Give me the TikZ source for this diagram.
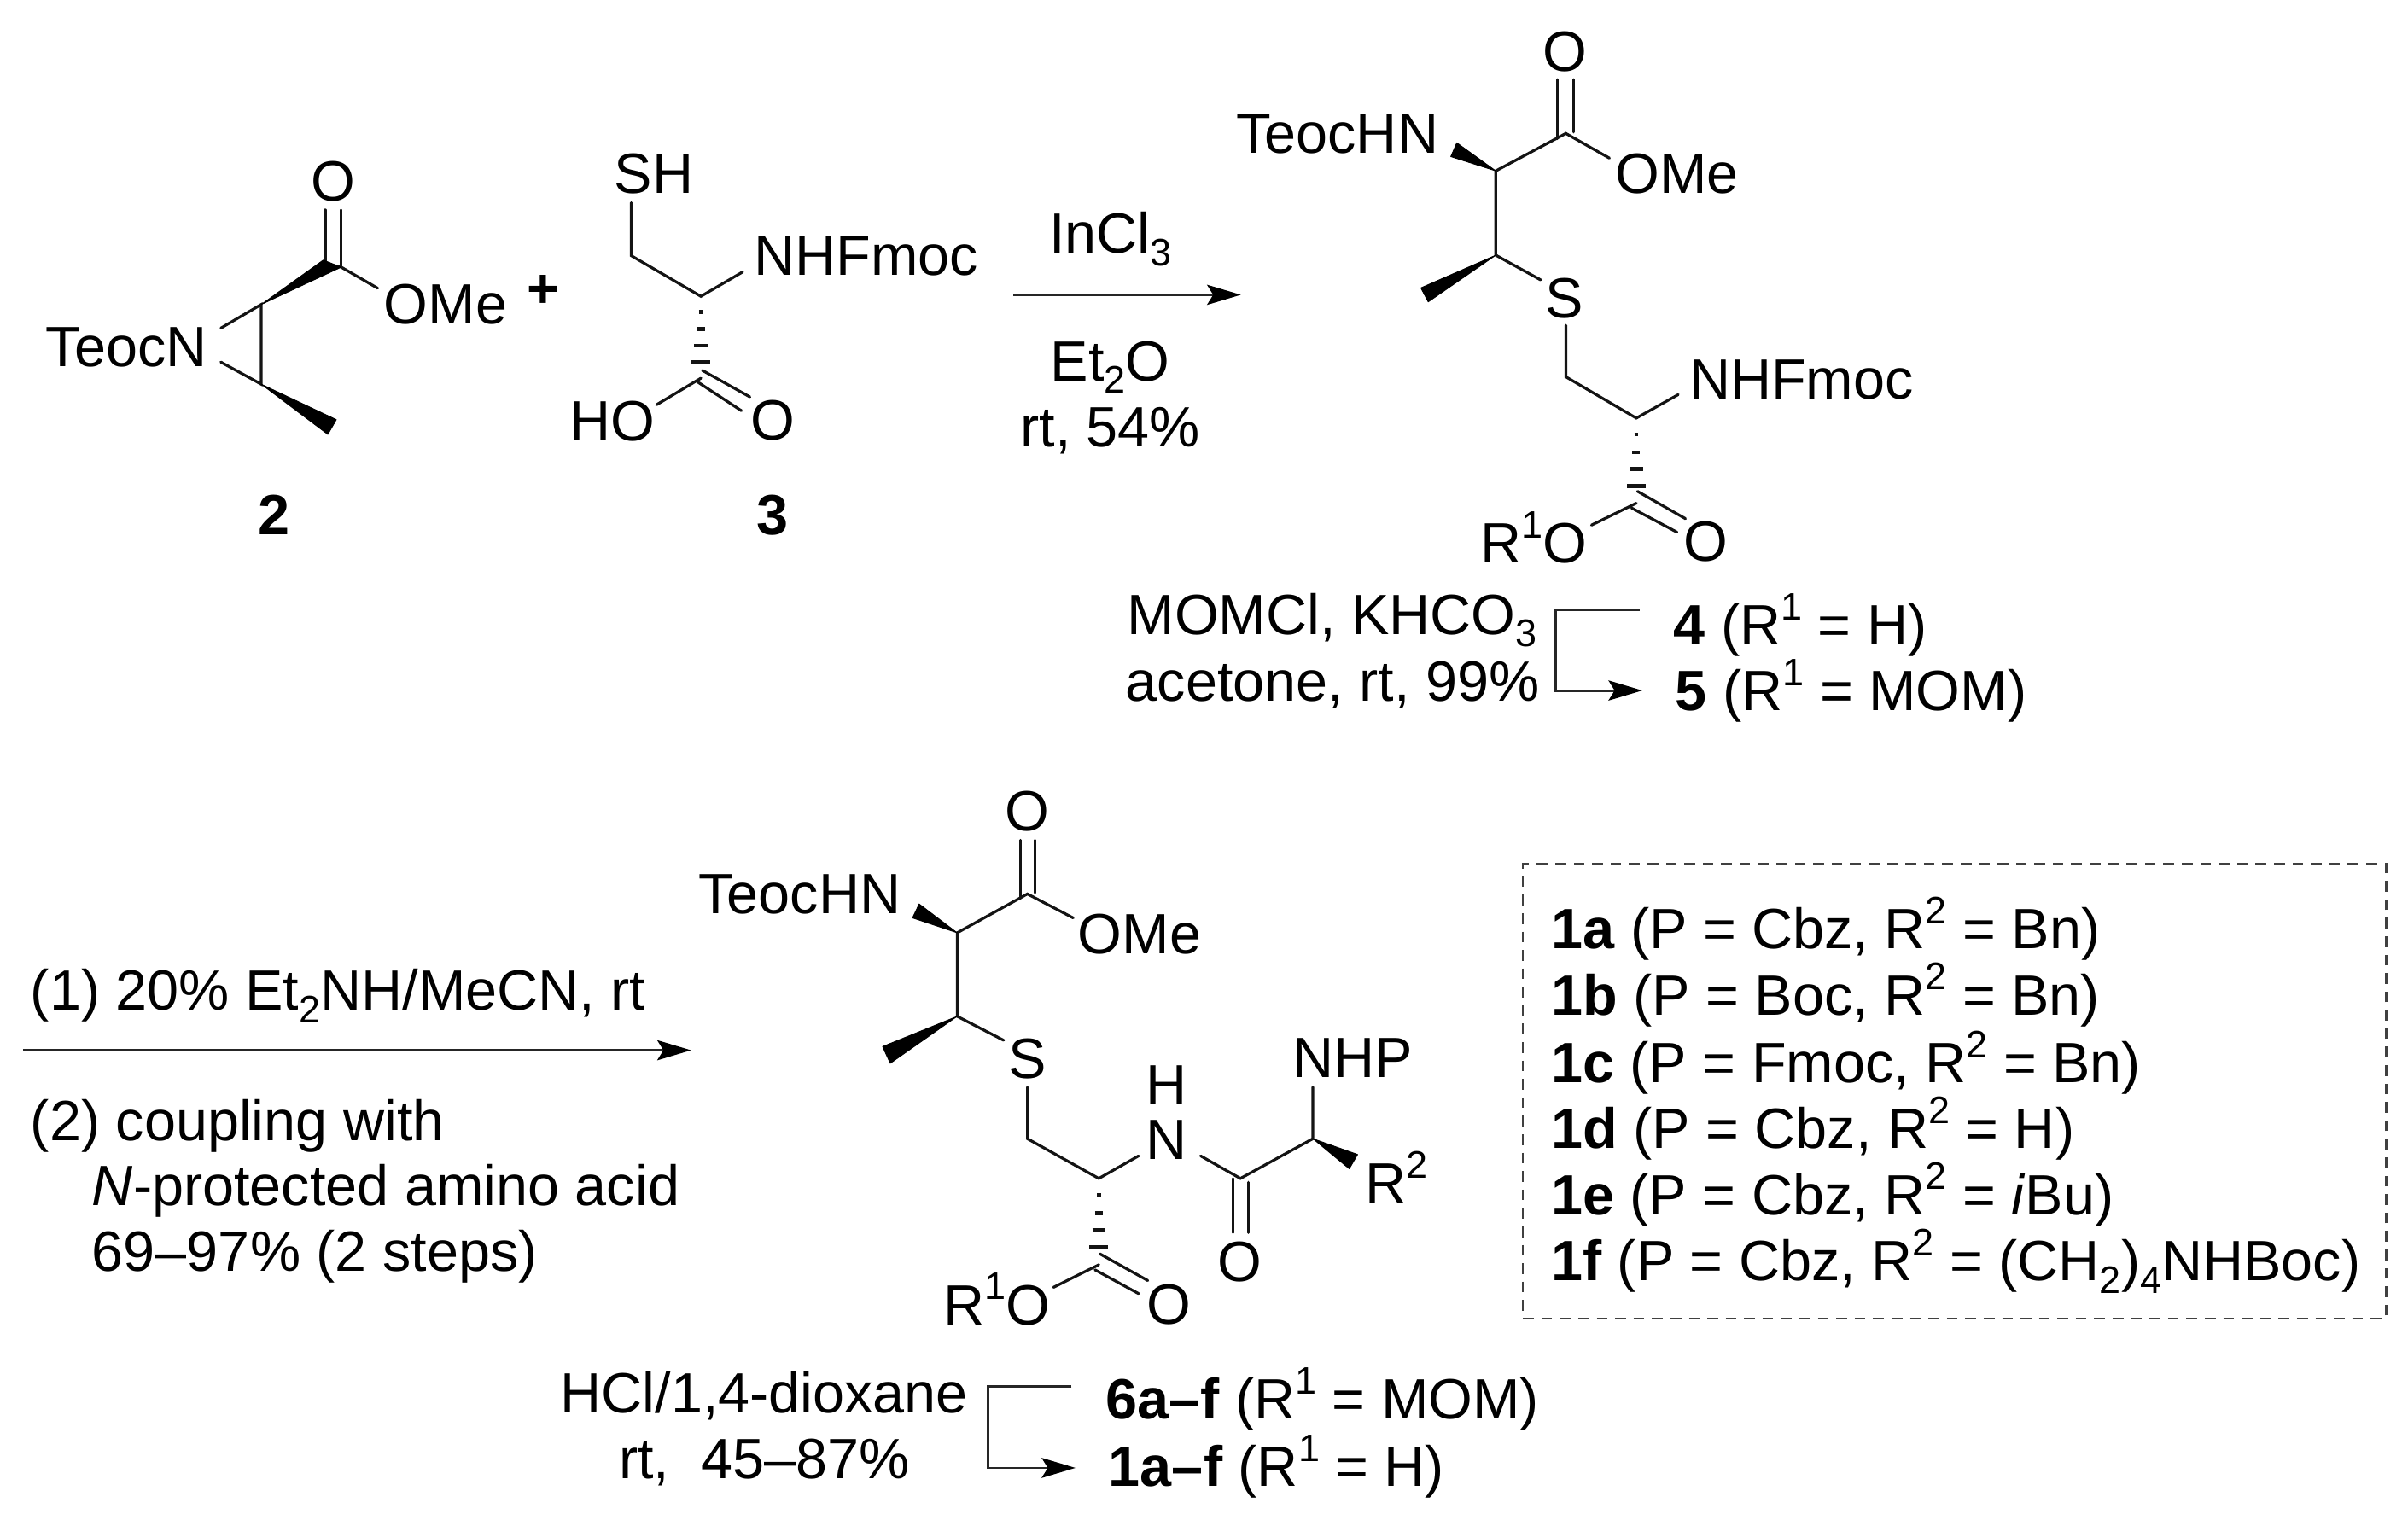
\documentclass[tikz,border=0pt]{standalone}
\usepackage{fontspec}
\setmainfont{Liberation Sans}
\usetikzlibrary{calc,arrows.meta}
\newcommand\lo[1]{\raisebox{-0.22em}{\fontsize{25}{25}\selectfont #1}}
\newcommand\hi[1]{\raisebox{0.44em}{\fontsize{25}{25}\selectfont #1}}
\newcommand\hashbond[2]{\foreach \f/\w in {0.19/2.5,0.40/5,0.60/8.5,0.80/12}{\draw[hashline] ($(#1)!\f!(#2)$) +(-\w*0.5,0) -- +(\w*0.5,0);}}
\tikzset{
 lbl/.style={inner sep=0pt,outer sep=0pt,anchor=base west,font=\fontsize{37}{37}\selectfont,text=black},
 bond/.style={line width=1.8pt,draw=black!92,line cap=round,line join=miter},
 wedgeb/.style={fill=black,draw=black,line width=0.5pt,line join=round},
 hashline/.style={line width=2.5pt,draw=black!92},
 rxn/.style={line width=1.6pt,draw=black!85,-{Stealth[length=22pt,width=13pt,inset=4pt,color=black]}},
}
\begin{document}
\begin{tikzpicture}[x=1pt,y=-1pt]
\useasboundingbox (0,0) rectangle (1568,989.4);
% ---------- compound 2
\node[lbl] (tn2) at (30,238.5) {TeocN};
\node[lbl] (ome2) at (250,211) {OMe};
\node[lbl,anchor=center] (o2) at (217,118) {O};
\node[lbl,anchor=base] (lab2) at (178.6,348) {\textbf{2}};
\node[lbl,anchor=center,font=\bfseries\fontsize{36}{36}\selectfont] (plus) at (354,190) {+};
\coordinate (a1) at (170.1,198.3); \coordinate (a2) at (170.1,250.2);
\coordinate (a3) at (143.8,213.7); \coordinate (a4) at (143.8,235.8);
\coordinate (a5) at (221,173.3); \coordinate (a6) at (245.9,187.7);
\coordinate (a7) at (211.8,136.7); \coordinate (a8) at (211.8,170);
\coordinate (a9) at (222.2,136.7); \coordinate (a10) at (222.2,174);
\coordinate (a11) at (210.5,169.4); \coordinate (a12) at (219,273.3); \coordinate (a13) at (213.5,282.9);
\draw[bond] (a3) -- (a1) -- (a2) -- (a4);
\draw[bond] (a5) -- (a6);
\draw[bond] (a7) -- (a8); \draw[bond] (a9) -- (a10);
\filldraw[wedgeb] (a1) -- (a11) -- (a10) -- cycle;
\filldraw[wedgeb] (a2) -- (a12) -- (a13) -- cycle;
% ---------- compound 3
\node[lbl] (sh3) at (400,126) {SH};
\node[lbl] (nh3) at (491,179.5) {NHFmoc};
\node[lbl] (ho3) at (371,287) {HO};
\node[lbl,anchor=center] (o3) at (503,273.8) {O};
\node[lbl,anchor=base] (lab3) at (502.8,348) {\textbf{3}};
\coordinate (b1) at (411,132); \coordinate (b2) at (411,166.5); \coordinate (b3) at (456.4,193);
\coordinate (b4) at (483.6,177.1); \coordinate (b5) at (456.4,246.3); \coordinate (b6) at (427.5,263.6);
\coordinate (b7) at (457.3,241.2); \coordinate (b8) at (488.3,258.5);
\coordinate (b9) at (454.3,248.8); \coordinate (b10) at (482.8,267.5);
\draw[bond] (b1) -- (b2) -- (b3) -- (b4);
\draw[bond] (b5) -- (b6);
\draw[bond] (b7) -- (b8); \draw[bond] (b9) -- (b10);
\hashbond{b3}{b5}
% ---------- arrow 1
\node[lbl,anchor=base] (incl) at (723,165) {InCl\lo{3}};
\node[lbl,anchor=base] (et2o) at (723,248) {Et\lo{2}O};
\node[lbl,anchor=base] (rt54) at (723,291) {rt, 54\%};
\coordinate (r1s) at (660,192); \coordinate (r1e) at (808,192);
\draw[rxn] (r1s) -- (r1e);
% ---------- compound 4
\node[lbl,anchor=center] (o4) at (1018.8,33.5) {O};
\node[lbl] (ome4) at (1052,126) {OMe};
\node[lbl] (teoc4) at (805,100) {TeocHN};
\node[lbl,anchor=center] (s4) at (1018.8,194.5) {S};
\node[lbl] (nh4) at (1100,260) {NHFmoc};
\node[lbl] (ro4) at (964,366.5) {R\hi{1}O};
\node[lbl,anchor=center] (o4b) at (1111,352.7) {O};
\coordinate (c1) at (1014.1,51.8); \coordinate (c2) at (1014.1,90.3);
\coordinate (c3) at (1024.6,51.8); \coordinate (c4) at (1024.6,86);
\coordinate (c5) at (1019.6,86.9); \coordinate (c6) at (974,111.3);
\coordinate (c7) at (1048,103); \coordinate (c8) at (948.6,93); \coordinate (c9) at (944.7,102);
\coordinate (c10) at (974,166.2); \coordinate (c11) at (925.2,187.5); \coordinate (c12) at (930,196.6);
\coordinate (c13) at (1003.2,182.3); \coordinate (c14) at (1019.6,211.9); \coordinate (c15) at (1019.6,245.4);
\coordinate (c16) at (1065.5,272.3); \coordinate (c17) at (1092.8,257); \coordinate (c18) at (1065.5,327.7);
\coordinate (c19) at (1036.3,342); \coordinate (c20) at (1066.3,320); \coordinate (c21) at (1097.5,337.8);
\coordinate (c22) at (1062.4,330.8); \coordinate (c23) at (1092,346.6);
\draw[bond] (c1) -- (c2); \draw[bond] (c3) -- (c4);
\draw[bond] (c7) -- (c5) -- (c6) -- (c10) -- (c13);
\draw[bond] (c14) -- (c15) -- (c16) -- (c17);
\draw[bond] (c18) -- (c19);
\draw[bond] (c20) -- (c21); \draw[bond] (c22) -- (c23);
\filldraw[wedgeb] (c6) -- (c8) -- (c9) -- cycle;
\filldraw[wedgeb] (c10) -- (c11) -- (c12) -- cycle;
\hashbond{c16}{c18}
% ---------- 4 -> 5
\node[lbl] (mom) at (734,413) {MOMCl, KHCO\lo{3}};
\node[lbl] (ace) at (733,456.5) {acetone, rt, 99\%};
\node[lbl] (cp4) at (1089.7,420) {\textbf{4} (R\hi{1} = H)};
\node[lbl] (cp5) at (1091,463) {\textbf{5} (R\hi{1} = MOM)};
\coordinate (d1) at (1067.5,397); \coordinate (d2) at (1013,397); \coordinate (d3) at (1013,449.7); \coordinate (d4) at (1069.4,449.7);
\draw[rxn] (d1) -- (d2) -- (d3) -- (d4);
% ---------- arrow 2
\node[lbl] (st1) at (20,658) {(1) 20\% Et\lo{2}NH/MeCN, rt};
\node[lbl] (st2) at (20,743) {(2) coupling with};
\node[lbl] (st3) at (60,785) {\textit{N}-protected amino acid};
\node[lbl] (st4) at (60,828) {69–97\% (2 steps)};
\coordinate (r2s) at (15,684); \coordinate (r2e) at (450,684);
\draw[rxn] (r2s) -- (r2e);
% ---------- compound 6
\node[lbl,anchor=center] (o6) at (669,528.4) {O};
\node[lbl] (ome6) at (702,621) {OMe};
\node[lbl] (teoc6) at (455,595) {TeocHN};
\node[lbl,anchor=center] (s6) at (669,689.4) {S};
\node[lbl,anchor=center] (n6) at (759.8,742.5) {N};
\node[lbl,anchor=center] (h6) at (759.8,706.6) {H};
\node[lbl] (nhp6) at (842,701.7) {NHP};
\node[lbl] (r26) at (889,783.6) {R\hi{2}};
\node[lbl,anchor=center] (o6c) at (807,822) {O};
\node[lbl] (ro6) at (614.5,862.7) {R\hi{1}O};
\node[lbl,anchor=center] (o6b) at (760.9,849.4) {O};
\coordinate (e1) at (664.4,547.2); \coordinate (e2) at (664.4,585);
\coordinate (e3) at (674,547.2); \coordinate (e4) at (674,581.5);
\coordinate (e5) at (669,582.2); \coordinate (e6) at (623.3,607.5);
\coordinate (e7) at (698.8,597.8); \coordinate (e8) at (598.5,588.7); \coordinate (e9) at (594.2,597.8);
\coordinate (e10) at (623.3,661.9); \coordinate (e11) at (574.7,681.6); \coordinate (e12) at (579.7,692.5);
\coordinate (e13) at (653.5,677.5); \coordinate (e14) at (669,708); \coordinate (e15) at (669,741.6);
\coordinate (e16) at (715.5,767.5); \coordinate (e17) at (741.4,752.8); \coordinate (e18) at (781.8,752.8);
\coordinate (e19) at (807.7,767.5); \coordinate (e20) at (854.9,741.6); \coordinate (e21) at (854.9,708);
\coordinate (e22) at (884,751.9); \coordinate (e23) at (878.6,761.2);
\coordinate (e24) at (803,767.5); \coordinate (e25) at (803,802.8); \coordinate (e26) at (813,770); \coordinate (e27) at (813,802.8);
\coordinate (e28) at (715.5,823.7); \coordinate (e29) at (686,838.4);
\coordinate (e30) at (716.2,816.6); \coordinate (e31) at (747.4,834); \coordinate (e32) at (713,827); \coordinate (e33) at (741.4,842.5);
\draw[bond] (e1) -- (e2); \draw[bond] (e3) -- (e4);
\draw[bond] (e7) -- (e5) -- (e6) -- (e10) -- (e13);
\draw[bond] (e14) -- (e15) -- (e16) -- (e17);
\draw[bond] (e18) -- (e19) -- (e20) -- (e21);
\draw[bond] (e24) -- (e25); \draw[bond] (e26) -- (e27);
\draw[bond] (e28) -- (e29);
\draw[bond] (e30) -- (e31); \draw[bond] (e32) -- (e33);
\filldraw[wedgeb] (e6) -- (e8) -- (e9) -- cycle;
\filldraw[wedgeb] (e10) -- (e11) -- (e12) -- cycle;
\filldraw[wedgeb] (e20) -- (e22) -- (e23) -- cycle;
\hashbond{e16}{e28}
% ---------- 6 -> 1
\node[lbl] (hcl) at (365,920) {HCl/1,4-dioxane};
\node[lbl] (rt45) at (403,963) {rt,\ \ 45–87\%};
\node[lbl] (cp6) at (720,924) {\textbf{6a–f} (R\hi{1} = MOM)};
\node[lbl] (cp1) at (722,968) {\textbf{1a–f} (R\hi{1} = H)};
\coordinate (f1) at (697.8,902.8); \coordinate (f2) at (643.5,902.8); \coordinate (f3) at (643.5,956); \coordinate (f4) at (700.3,956);
\draw[rxn] (f1) -- (f2) -- (f3) -- (f4);
% ---------- box
\node[draw=black!75,line width=1.4pt,dash pattern=on 7pt off 5pt,inner sep=0pt,minimum width=562pt,minimum height=296pt,anchor=north west] (bx) at (991,562) {};
\node[lbl] (l1a) at (1010,618) {\textbf{1a} (P = Cbz, R\hi{2} = Bn)};
\node[lbl] (l1b) at (1010,661) {\textbf{1b} (P = Boc, R\hi{2} = Bn)};
\node[lbl] (l1c) at (1010,705) {\textbf{1c} (P = Fmoc, R\hi{2} = Bn)};
\node[lbl] (l1d) at (1010,748) {\textbf{1d} (P = Cbz, R\hi{2} = H)};
\node[lbl] (l1e) at (1010,791) {\textbf{1e} (P = Cbz, R\hi{2} = \textit{i}Bu)};
\node[lbl] (l1f) at (1010,834) {\textbf{1f} (P = Cbz, R\hi{2} = (CH\lo{2})\lo{4}NHBoc)};
\end{tikzpicture}
\end{document}
